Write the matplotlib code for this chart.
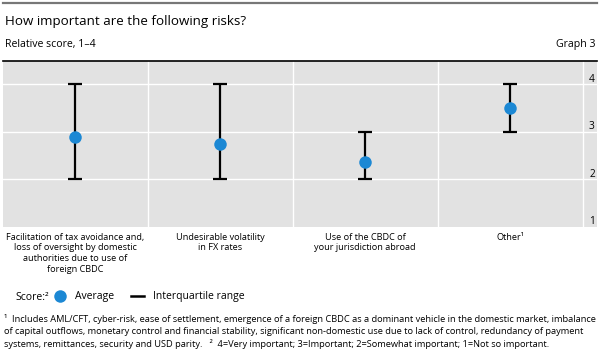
import matplotlib
matplotlib.use("Agg")
import matplotlib.pyplot as plt
from matplotlib.lines import Line2D

plt.rcParams['font.family'] = ['Open Sans', 'DejaVu Sans']

categories = [
    "Facilitation of tax avoidance and,\nloss of oversight by domestic\nauthorities due to use of\nforeign CBDC",
    "Undesirable volatility\nin FX rates",
    "Use of the CBDC of\nyour jurisdiction abroad",
    "Other\u00b9",
]
average = [2.9, 2.74, 2.36, 3.5]
q_low = [2, 2, 2, 3]
q_high = [4, 4, 3, 4]
yticks = [1, 2, 3, 4]

footnote = [
    "\u00b9  Includes AML/CFT, cyber-risk, ease of settlement, emergence of a foreign CBDC as a dominant vehicle in the domestic market, imbalance",
    "of capital outflows, monetary control and financial stability, significant non-domestic use due to lack of control, redundancy of payment",
    "systems, remittances, security and USD parity.   \u00b2  4=Very important; 3=Important; 2=Somewhat important; 1=Not so important.",
]

blue = "#1c88d4"
fig = plt.figure(figsize=(6, 3.56), dpi=100)

# header
fig.add_artist(Line2D([0.005, 0.995], [1 - 3/356, 1 - 3/356], color="#777777", lw=1.6))
fig.text(5/600, 1 - 21/356, "How important are the following risks?", fontsize=9.6, va="center", ha="left")
fig.text(5/600, 1 - 45/356, "Relative score, 1\u20134", fontsize=7.6, va="center", ha="left")
fig.text(595/600, 1 - 45/356, "Graph 3", fontsize=7.6, va="center", ha="right")

ax = fig.add_axes([3/600, (356 - 227)/356, 594/600, 166/356])
ax.set_facecolor("#e2e2e2")
x = list(range(len(categories)))
ax.set_xlim(-0.5, 3.6)
ax.set_ylim(1, 4.49)

for v in yticks[1:]:
    ax.axhline(v, color="white", lw=1, zorder=1)
for b in [0.5, 1.5, 2.5, 3.5]:
    ax.axvline(b, color="white", lw=1, zorder=1)

yerr = [[a - l for a, l in zip(average, q_low)], [h - a for a, h in zip(average, q_high)]]
ax.errorbar(x, average, yerr=yerr, fmt="none", ecolor="black", elinewidth=1.6,
            capsize=5, capthick=1.6, zorder=3)
ax.plot(x, average, "o", color=blue, markersize=9, zorder=4, markeredgewidth=0)

for s in ["left", "right", "bottom"]:
    ax.spines[s].set_visible(False)
ax.spines["top"].set_color("black")
ax.spines["top"].set_linewidth(1.2)

ax.set_yticks([])
for v in yticks:
    ax.text(3.585, v - 0.01, str(v), ha="right", va="bottom", fontsize=7.3)

ax.set_xticks(x)
ax.set_xticklabels(categories, fontsize=6.6, linespacing=1.27)
ax.tick_params(axis="x", length=0, pad=4)

# legend
fig.text(15/600, 1 - 297/356, "Score:\u00b2", fontsize=7.5, va="center", ha="left")
handles = [
    Line2D([], [], marker="o", color=blue, linestyle="none", markersize=9, markeredgewidth=0),
    Line2D([], [], color="black", lw=1.8),
]
fig.legend(handles, ["Average", "Interquartile range"], loc="center left",
           bbox_to_anchor=(53/600, 1 - 297/356), ncol=2, frameon=False, fontsize=7.5,
           handlelength=1.3, handletextpad=0.8, columnspacing=1.6, borderaxespad=0, borderpad=0)

for i, line in enumerate(footnote):
    fig.text(4/600, 1 - (319 + 12.5*i)/356, line, fontsize=6.65, va="center", ha="left")

fig.savefig("out.png", dpi=100)
